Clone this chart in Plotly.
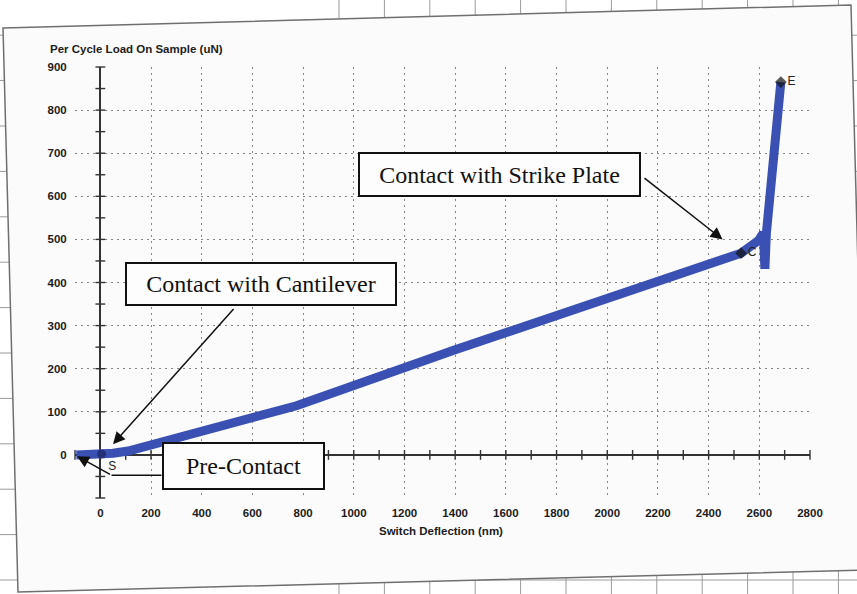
import plotly.graph_objects as go

# Loading trace: switch deflection (nm) vs per-cycle load on sample (uN)
deflection_nm = [-95, -50, 0, 50, 110, 245, 444, 643, 774, 1400, 2000, 2528, 2596, 2616, 2622, 2628, 2685]
load_un = [0, 0, 2, 4, 9, 30, 60, 90, 114, 244, 364, 468, 497, 515, 432, 515, 865]

# Landmark points on the trace
point_labels = ["S", "C", "E"]
point_x = [5, 2528, 2685]
point_y = [2, 468, 865]

# Axis ticks
x_tickvals = [0, 200, 400, 600, 800, 1000, 1200, 1400, 1600, 1800, 2000, 2200, 2400, 2600, 2800]
y_tickvals = [-100, 0, 100, 200, 300, 400, 500, 600, 700, 800, 900]
y_ticktext = ["", "0", "100", "200", "300", "400", "500", "600", "700", "800", "900"]

# Small tick marks drawn on the zero axes
x_axis_marks = list(range(-100, 2801, 100))
y_axis_marks = list(range(-100, 901, 50))

W, H = 857, 594
M = dict(l=75, r=47, t=67, b=96)
PW = W - M["l"] - M["r"]
PH = H - M["t"] - M["b"]


def px(x):
    return (x - M["l"]) / PW


def py(y):
    return (H - M["b"] - y) / PH


SANS = "Liberation Sans, Arial, sans-serif"
SERIF = "Liberation Serif, Times New Roman, serif"
BLUE = "#3a50b2"
LABEL_FONT = dict(family=SANS, size=11.5, color="#1c1c1c", weight=600)

fig = go.Figure()

# tick marks along the zero axes
fig.add_trace(go.Scatter(
    x=x_axis_marks, y=[0] * len(x_axis_marks), mode="markers",
    marker=dict(symbol="line-ns", size=7, line=dict(width=1.4, color="#333")),
    hoverinfo="skip", showlegend=False, cliponaxis=False))
fig.add_trace(go.Scatter(
    x=[0] * len(y_axis_marks), y=y_axis_marks, mode="markers",
    marker=dict(symbol="line-ew", size=7, line=dict(width=1.4, color="#333")),
    hoverinfo="skip", showlegend=False, cliponaxis=False))

# the load trace
fig.add_trace(go.Scatter(
    x=deflection_nm, y=load_un, mode="lines",
    line=dict(color=BLUE, width=9),
    hoverinfo="skip", showlegend=False, cliponaxis=False))

# landmark markers S, C, E
fig.add_trace(go.Scatter(
    x=point_x, y=point_y, mode="markers+text",
    text=point_labels, textposition=["bottom right", "middle right", "middle right"],
    textfont=dict(family=SANS, size=12, color="#222"),
    marker=dict(symbol=["circle", "diamond", "diamond"], size=[9, 9, 9],
                color=["#1b2460", "#111", "#111"], line=dict(width=0)),
    hoverinfo="skip", showlegend=False, cliponaxis=False))

shapes = []
# ruled paper behind the printed sheet
for k in range(12):
    xv = 339 + 45.4 * k
    shapes.append(dict(type="line", xref="paper", yref="paper",
                       x0=px(xv), x1=px(xv), y0=py(0), y1=py(H),
                       line=dict(color="#9a9a9a", width=1), layer="below"))
for k in range(13):
    yv = 580 - 45.4 * k
    shapes.append(dict(type="line", xref="paper", yref="paper",
                       x0=px(0), x1=px(W), y0=py(yv), y1=py(yv),
                       line=dict(color="#9a9a9a", width=1), layer="below"))
# the sheet itself
sheet = (f"M {px(3)},{py(28)} L {px(851)},{py(5)} "
         f"L {px(866)},{py(570)} L {px(18)},{py(592)} Z")
shapes.append(dict(type="path", xref="paper", yref="paper", path=sheet,
                   fillcolor="#fbfbfb", line=dict(color="#6f6f6f", width=1.5),
                   layer="below"))
# connector from the Pre-Contact box
shapes.append(dict(type="line", xref="x", yref="y", x0=241, y0=-47, x1=44, y1=-47,
                   line=dict(color="#111", width=1.5)))

box_font = dict(family=SERIF, size=24, color="#111")
annotations = [
    dict(text="Contact with Strike Plate", x=1573, y=651, xref="x", yref="y",
         showarrow=False, font=box_font, bgcolor="#fdfdfd",
         bordercolor="#111", borderwidth=2, borderpad=0, width=279, height=41),
    dict(text="Contact with Cantilever", x=634, y=397, xref="x", yref="y",
         showarrow=False, font=box_font, bgcolor="#fdfdfd",
         bordercolor="#111", borderwidth=2, borderpad=0, width=268, height=40),
    dict(text="Pre-Contact", x=563, y=-26, xref="x", yref="y",
         showarrow=False, font=box_font, bgcolor="#fdfdfd",
         bordercolor="#111", borderwidth=2, borderpad=0, width=159, height=44),
    # arrows
    dict(text="", x=2455, y=500, ax=2141, ay=645, xref="x", yref="y",
         axref="x", ayref="y", showarrow=True, arrowhead=2, arrowsize=1.6,
         arrowwidth=1.5, arrowcolor="#111"),
    dict(text="", x=50, y=25, ax=531, ay=342, xref="x", yref="y",
         axref="x", ayref="y", showarrow=True, arrowhead=2, arrowsize=1.6,
         arrowwidth=1.5, arrowcolor="#111"),
    dict(text="", x=-92, y=-3, ax=44, ay=-47, xref="x", yref="y",
         axref="x", ayref="y", showarrow=True, arrowhead=2, arrowsize=1.6,
         arrowwidth=1.5, arrowcolor="#111"),
    # axis titles
    dict(text="Per Cycle Load On Sample (uN)", x=px(48), y=py(49),
         xref="paper", yref="paper", xanchor="left", yanchor="middle",
         showarrow=False, font=dict(family=SANS, size=11.5, color="#1c1c1c", weight=600)),
    dict(text="Switch Deflection (nm)", x=px(441), y=py(531),
         xref="paper", yref="paper", xanchor="center", yanchor="middle",
         showarrow=False, font=dict(family=SANS, size=11.5, color="#1c1c1c", weight=600)),
]

grid = dict(showgrid=True, gridcolor="#858585", gridwidth=1.4, griddash="2px,4px",
            zeroline=True, zerolinecolor="#333", zerolinewidth=1.5,
            showline=False, ticks="outside", tickcolor="rgba(0,0,0,0)",
            tickfont=LABEL_FONT)

fig.update_layout(
    width=W, height=H, margin=M,
    paper_bgcolor="white", plot_bgcolor="rgba(0,0,0,0)",
    showlegend=False, shapes=shapes, annotations=annotations,
    xaxis=dict(range=[-100, 2800], tickmode="array", tickvals=x_tickvals,
               ticklen=4, **grid),
    yaxis=dict(range=[-100, 900], tickmode="array", tickvals=y_tickvals,
               ticktext=y_ticktext, ticklen=5, **grid),
)

fig.write_html("out.html")
